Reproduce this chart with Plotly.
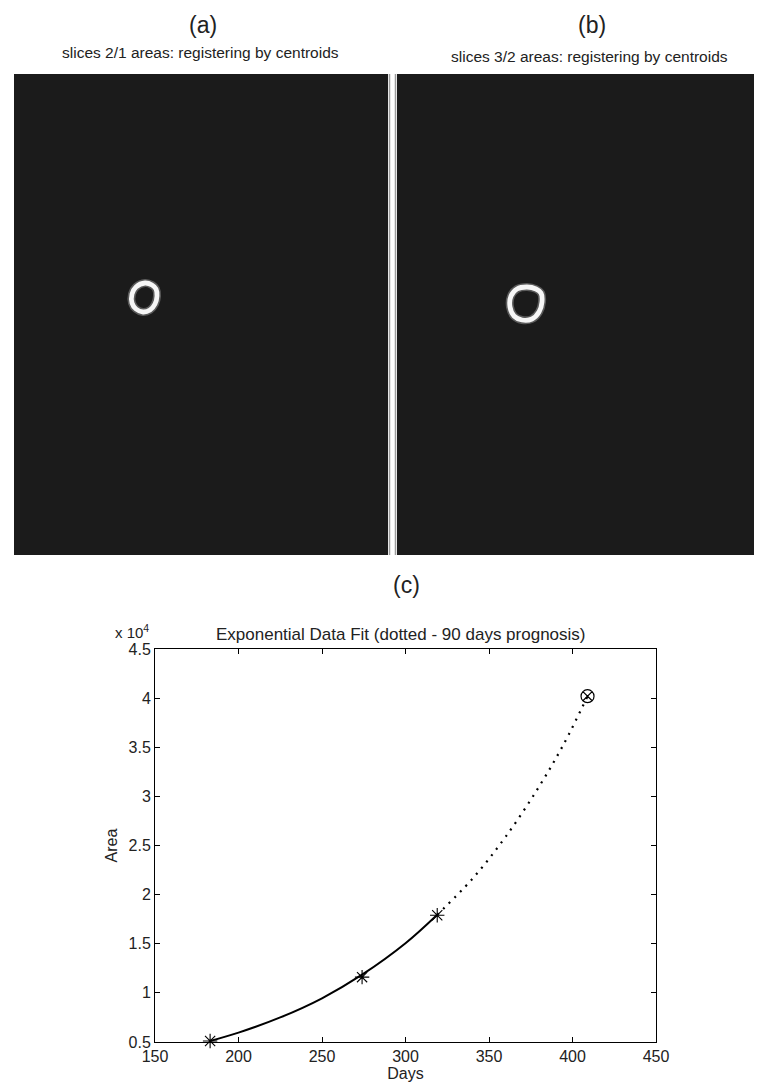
import plotly.graph_objects as go

# ---------------- data ----------------
# panel (c): measured areas (asterisks)
obs_days = [183, 274, 319]
obs_area = [5100, 11600, 17900]
# 90-day prognosis point (circle-x)
prog_days = [409]
prog_area = [40200]
# exponential fit curve (solid part: data range)
fit_days = [183, 200, 225, 250, 274, 300, 319]
fit_area = [5100, 5950, 7500, 9450, 11850, 15050, 17950]
# dotted part: prognosis
prog_curve_days = [319, 340, 360, 380, 395, 409]
prog_curve_area = [17950, 21600, 25900, 31000, 35400, 40200]

x_ticks = [150, 200, 250, 300, 350, 400, 450]
y_ticks = [5000, 10000, 15000, 20000, 25000, 30000, 35000, 40000, 45000]
y_ticktext = ["0.5", "1", "1.5", "2", "2.5", "3", "3.5", "4", "4.5"]

# panels (a), (b): ring outlines in image pixel coordinates (col, row)
ring_a_x = [131, 138, 142, 143, 141, 136, 129, 122, 118, 118, 122, 131]
ring_a_y = [209, 211, 215, 222, 230, 236, 238, 235, 229, 220, 213, 209]
ring_b_x = [130, 139, 144, 145, 142, 135, 125, 117, 113, 114, 120, 130]
ring_b_y = [213, 215, 219, 228, 238, 245, 246, 242, 233, 222, 215, 213]

# page body has an 8px default margin: the figure covers window pixels 8..762 / 8..1084
OFF = 8
W, H = 762 - OFF, 1084 - OFF
FONT = "Liberation Sans, Arial, Helvetica, sans-serif"


def fx(px):
    return (px - OFF) / W


def fy(py):
    return 1 - (py - OFF) / H


fig = go.Figure()

# rings (glow + bright line)
for rx, ry, xa, ya in [(ring_a_x, ring_a_y, "x2", "y2"), (ring_b_x, ring_b_y, "x3", "y3")]:
    fig.add_trace(go.Scatter(x=rx, y=ry, mode="lines", xaxis=xa, yaxis=ya,
                             line=dict(color="rgba(210,210,210,0.35)", width=8, shape="spline"),
                             hoverinfo="skip", showlegend=False))
    fig.add_trace(go.Scatter(x=rx, y=ry, mode="lines", xaxis=xa, yaxis=ya,
                             line=dict(color="#f6f6f6", width=4.8, shape="spline"),
                             hoverinfo="skip", showlegend=False))

# fit curve (solid) and prognosis (dotted)
fig.add_trace(go.Scatter(x=fit_days, y=fit_area, mode="lines",
                         line=dict(color="black", width=2, shape="spline"),
                         showlegend=False))
fig.add_trace(go.Scatter(x=prog_curve_days, y=prog_curve_area, mode="lines",
                         line=dict(color="black", width=2.2, shape="spline", dash="2px,6px"),
                         showlegend=False))
fig.add_trace(go.Scatter(x=obs_days, y=obs_area, mode="markers", cliponaxis=False,
                         marker=dict(symbol="asterisk-open", size=12, color="black",
                                     line=dict(color="black", width=1.1)),
                         showlegend=False))
fig.add_trace(go.Scatter(x=prog_days, y=prog_area, mode="markers", cliponaxis=False,
                         marker=dict(symbol="circle-x-open", size=13, color="black",
                                     line=dict(color="black", width=1.2)),
                         showlegend=False))

axis_common = dict(showline=True, linecolor="black", linewidth=1, mirror="ticks",
                   ticks="inside", ticklen=5, tickcolor="black", showgrid=False,
                   zeroline=False, automargin=False,
                   tickfont=dict(family=FONT, size=16, color="#222"))

hidden = dict(visible=False, showgrid=False, zeroline=False, automargin=False)

fig.update_layout(
    width=W, height=H,
    margin=dict(l=0, r=0, t=0, b=0, pad=0, autoexpand=False),
    paper_bgcolor="white", plot_bgcolor="white",
    font=dict(family=FONT, color="#222"),
    xaxis=dict(domain=[fx(155), fx(656)], range=[150, 450], tickvals=x_ticks,
               title=dict(text="Days", standoff=3, font=dict(family=FONT, size=16, color="#222")),
               anchor="y", **axis_common),
    yaxis=dict(domain=[fy(1042), fy(649)], range=[5000, 45000], tickvals=y_ticks,
               ticktext=y_ticktext,
               title=dict(text="Area", standoff=6, font=dict(family=FONT, size=16, color="#222")),
               anchor="x", **axis_common),
    xaxis2=dict(domain=[fx(14), fx(388)], range=[0, 374], anchor="y2", **hidden),
    yaxis2=dict(domain=[fy(555), fy(74)], range=[481, 0], anchor="x2", **hidden),
    xaxis3=dict(domain=[fx(397), 1.0], range=[0, 365], anchor="y3", **hidden),
    yaxis3=dict(domain=[fy(555), fy(74)], range=[481, 0], anchor="x3", **hidden),
)

# dark image panels
for xr, yr in [("x2", "y2"), ("x3", "y3")]:
    fig.add_shape(type="rect", xref=f"{xr} domain", yref=f"{yr} domain",
                  x0=0, x1=1, y0=0, y1=1, fillcolor="#1b1b1b",
                  line=dict(width=0), layer="below")

# gray edges of the white separator bar
for xp in [389.5, 395.5]:
    fig.add_shape(type="line", xref="paper", yref="paper",
                  x0=fx(xp), x1=fx(xp), y0=fy(555), y1=fy(74),
                  line=dict(color="#9c9c9c", width=1.5))

annos = [
    dict(text="(a)", x=fx(203), y=fy(25), size=23),
    dict(text="(b)", x=fx(592), y=fy(25), size=23),
    dict(text="slices 2/1 areas: registering by centroids", x=fx(200), y=fy(52), size=15.5),
    dict(text="slices 3/2 areas: registering by centroids", x=fx(589), y=fy(56), size=15.5),
    dict(text="(c)", x=fx(406), y=fy(585), size=23),
    dict(text="Exponential Data Fit (dotted - 90 days prognosis)", x=fx(400), y=fy(634), size=17),
]
for a in annos:
    fig.add_annotation(text=a["text"], xref="paper", yref="paper", x=a["x"], y=a["y"],
                       xanchor="center", yanchor="middle", showarrow=False,
                       font=dict(family=FONT, size=a["size"], color="#222"))

fig.add_annotation(text="x 10<sup>4</sup>", xref="paper", yref="paper",
                   x=fx(113), y=fy(643), xanchor="left", yanchor="bottom", showarrow=False,
                   font=dict(family=FONT, size=15, color="#222"))

fig.write_html("out.html")
